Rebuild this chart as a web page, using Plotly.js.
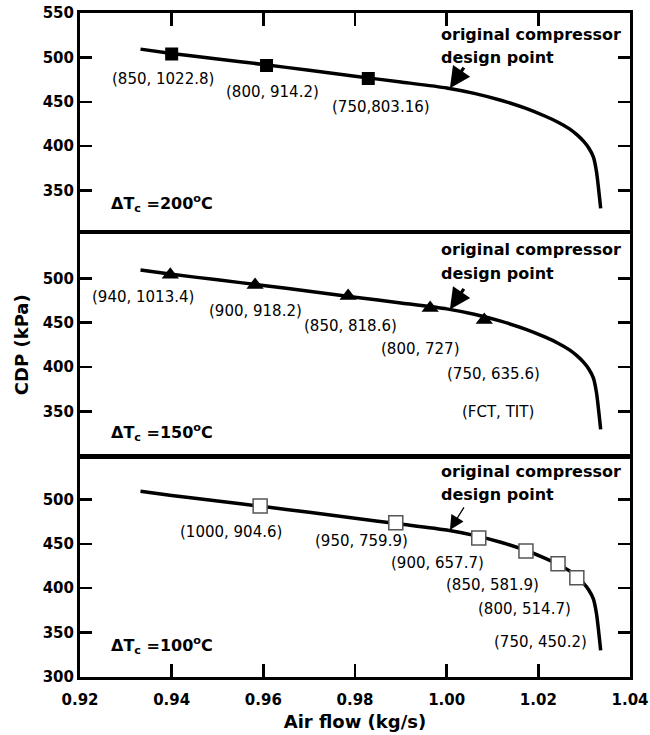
<!DOCTYPE html>
<html>
<head>
<meta charset="utf-8">
<script src="https://cdn.plot.ly/plotly-3.0.1.min.js"></script>
<style>html,body{margin:0;padding:0;background:#fff;}</style>
</head>
<body>
<div id="chart" style="width:650px;height:735px;"></div>
<script>
// Compressor characteristic (same line in all three panels)
const airFlow = [0.9332, 0.94, 0.95, 0.96, 0.97, 0.98, 0.99, 1.00, 1.006, 1.012, 1.0173, 1.0214, 1.0243, 1.0268, 1.0284, 1.0298, 1.031, 1.032, 1.0327, 1.0336];
const cdp     = [509.3, 504.5, 498.3, 492.0, 485.5, 478.8, 472.3, 465.6, 459.5, 451.5, 442.5, 434.0, 427.0, 419.5, 413.0, 406.0, 398.0, 388.0, 371.0, 330.0];

// Operating points, dTc = 200 C (filled squares)
const x200 = [0.9400, 0.9607, 0.9829];
const y200 = [503.7, 490.9, 476.2];
const lab200 = ["(850, 1022.8)", "(800, 914.2)", "(750,803.16)"];
const labX200 = [0.9380, 0.9619, 0.9857];
const labY200 = [475.4, 461.3, 444.0];

// Operating points, dTc = 150 C (triangles)
const x150 = [0.9397, 0.9582, 0.9785, 0.9964, 1.0082];
const y150 = [504.0, 492.5, 480.1, 466.5, 453.0];
const lab150 = ["(940, 1013.4)", "(900, 918.2)", "(850, 818.6)", "(800, 727)", "(750, 635.6)", "(FCT, TIT)"];
const labX150 = [0.9337, 0.9583, 0.9791, 0.9942, 1.0102, 1.0111];
const labY150 = [479.3, 463.5, 446.2, 421.0, 392.1, 349.6];

// Operating points, dTc = 100 C (open squares)
const x100 = [0.9593, 0.9889, 1.0070, 1.0173, 1.0243, 1.0284];
const y100 = [492.6, 473.8, 456.5, 441.9, 427.6, 411.8];
const lab100 = ["(1000, 904.6)", "(950, 759.9)", "(900, 657.7)", "(850, 581.9)", "(800, 514.7)", "(750, 450.2)"];
const labX100 = [0.9530, 0.9815, 0.9979, 1.0099, 1.0169, 1.0204];
const labY100 = [463.8, 453.7, 428.9, 403.7, 376.3, 339.8];

// Panel labels
const panelLabels = ["ΔT<sub>c</sub> =200<sup>o</sup>C", "ΔT<sub>c</sub> =150<sup>o</sup>C", "ΔT<sub>c</sub> =100<sup>o</sup>C"];
const panelLabelY = [335, 327, 336];
const designText1 = "original compressor";
const designText2 = "design point";
const designY1 = [525.5, 531.9, 531.5];
const designY2 = [500.0, 505.6, 505.2];
const designPointX = [1.0007, 1.0007, 1.0007];
const designPointY = [465.4, 465.0, 465.7];

const xTicks = [0.92, 0.94, 0.96, 0.98, 1.00, 1.02, 1.04];
const yTicksTop = [350, 400, 450, 500, 550];
const yTicksMid = [350, 400, 450, 500];
const yTicksBot = [300, 350, 400, 450, 500];

const FONT = "DejaVu Sans";
const axes = [["x","y"],["x2","y2"],["x3","y3"]];

const traces = [];
axes.forEach(([xa, ya]) => {
  traces.push({x: airFlow, y: cdp, xaxis: xa, yaxis: ya, mode: "lines",
    line: {color: "#000", width: 3.5, shape: "spline", smoothing: 0.6}, hoverinfo: "skip"});
});
traces.push({x: x200, y: y200, xaxis: "x", yaxis: "y", mode: "markers",
  marker: {symbol: "square", size: 13, color: "#000"}});
traces.push({x: x150, y: y150, xaxis: "x2", yaxis: "y2", mode: "markers",
  marker: {symbol: "triangle-up", size: 15, color: "#000"}});
traces.push({x: x100, y: y100, xaxis: "x3", yaxis: "y3", mode: "markers",
  marker: {symbol: "square", size: 14, color: "#fff", line: {color: "#555", width: 1.5}}});

const annotations = [];
function addLabels(xs, ys, texts, xa, ya) {
  texts.forEach((t, i) => annotations.push({x: xs[i], y: ys[i], xref: xa, yref: ya, text: t,
    showarrow: false, xanchor: "center", yanchor: "middle",
    font: {family: FONT, size: 15, color: "#000"}}));
}
addLabels(labX200, labY200, lab200, "x", "y");
addLabels(labX150, labY150, lab150, "x2", "y2");
addLabels(labX100, labY100, lab100, "x3", "y3");

axes.forEach(([xa, ya], i) => {
  annotations.push({x: 0.9263, y: panelLabelY[i], xref: xa, yref: ya, text: "<b>" + panelLabels[i] + "</b>",
    showarrow: false, xanchor: "left", yanchor: "middle", font: {family: FONT, size: 16, color: "#000"}});
  annotations.push({x: 0.9984, y: designY1[i], xref: xa, yref: ya, text: "<b>" + designText1 + "</b>",
    showarrow: false, xanchor: "left", yanchor: "middle", font: {family: FONT, size: 16, color: "#000"}});
  annotations.push({x: 0.9984, y: designY2[i], xref: xa, yref: ya, text: "<b>" + designText2 + "</b>",
    showarrow: false, xanchor: "left", yanchor: "middle", font: {family: FONT, size: 16, color: "#000"}});
  const thin = (i === 2);
  annotations.push({x: designPointX[i], y: designPointY[i], xref: xa, yref: ya, text: "",
    showarrow: true, axref: "pixel", ayref: "pixel", ax: 15, ay: thin ? -24 : -22,
    arrowhead: 2, arrowsize: thin ? 2.2 : 1.3, arrowwidth: thin ? 1.3 : 3.2, arrowcolor: "#000", standoff: 0});
});

const tickFont = {family: FONT, size: 15, color: "#000", weight: "bold"};
const baseX = {range: [0.92, 1.04], tickvals: xTicks, showgrid: false, zeroline: false,
  showline: true, linewidth: 3, linecolor: "#000", mirror: true, ticklen: 13, tickwidth: 2.5, tickcolor: "#000"};
const baseY = {showgrid: false, zeroline: false, showline: true, linewidth: 3, linecolor: "#000",
  mirror: "ticks", ticks: "inside", ticklen: 12, tickwidth: 2.5, tickcolor: "#000", tickfont: tickFont};

const layout = {
  width: 650, height: 735,
  margin: {l: 80, r: 20, t: 13, b: 58},
  paper_bgcolor: "#fff", plot_bgcolor: "#fff",
  showlegend: false,
  font: {family: FONT, color: "#000"},
  xaxis: Object.assign({}, baseX, {anchor: "y", side: "top", ticks: "inside", showticklabels: false}),
  xaxis2: Object.assign({}, baseX, {anchor: "y2", ticks: "", showticklabels: false}),
  xaxis3: Object.assign({}, baseX, {anchor: "y3", side: "bottom", ticks: "inside", showticklabels: true,
    tickformat: ".2f", tickfont: tickFont, ticklabelstandoff: 7,
    title: {text: "Air flow (kg/s)", font: {family: FONT, size: 18, color: "#000", weight: "bold"}, standoff: 8}}),
  yaxis: Object.assign({}, baseY, {anchor: "x", domain: [0.671, 1], range: [304, 550], tickvals: yTicksTop}),
  yaxis2: Object.assign({}, baseY, {anchor: "x2", domain: [0.3328, 0.668], range: [300, 550.5], tickvals: yTicksMid,
    title: {text: "CDP (kPa)", font: {family: FONT, size: 18, color: "#000", weight: "bold"}, standoff: 10}}),
  yaxis3: Object.assign({}, baseY, {anchor: "x3", domain: [0, 0.3313], range: [300, 547.8], tickvals: yTicksBot}),
  annotations: annotations
};

Plotly.newPlot("chart", traces, layout, {staticPlot: true, displayModeBar: false});
</script>
</body>
</html>
